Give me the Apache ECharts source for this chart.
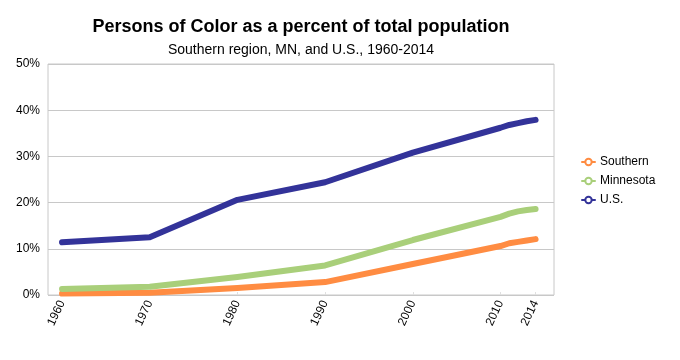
<!DOCTYPE html>
<html>
<head>
<meta charset="utf-8">
<script src="https://cdn.jsdelivr.net/npm/echarts@6/dist/echarts.min.js"></script>
<style>html,body{margin:0;padding:0;background:#fff}#c{width:680px;height:360px}</style>
</head>
<body>
<div id="c"></div>
<script>
var years = [1960, 1970, 1980, 1990, 2000, 2010, 2011, 2012, 2013, 2014];
var southern = [0.3, 0.5, 1.5, 2.8, 6.7, 10.6, 11.2, 11.5, 11.8, 12.1];
var minnesota = [1.3, 1.8, 3.9, 6.4, 11.9, 16.9, 17.6, 18.1, 18.4, 18.6];
var us = [11.4, 12.5, 20.6, 24.4, 30.8, 36.2, 36.8, 37.2, 37.6, 37.9];
var xTickLabels = [1960, 1970, 1980, 1990, 2000, 2010, 2014];
var yTicks = [0, 10, 20, 30, 40, 50];

function pairs(vals) { return years.map(function (y, i) { return [y, vals[i]]; }); }
var font = 'Liberation Sans, Arial, sans-serif';
function line(name, vals, color) {
  return {
    name: name, type: 'line', data: pairs(vals), symbol: 'emptyCircle', symbolSize: 7,
    showSymbol: false, lineStyle: { width: 6, color: color, cap: 'round', join: 'round' },
    itemStyle: { color: color, borderColor: color }, emphasis: { disabled: true }
  };
}
var chart = echarts.init(document.getElementById('c'), null, { renderer: 'canvas' });
chart.setOption({
  animation: false,
  title: [
    { text: 'Persons of Color as a percent of total population', left: 296, textAlign: 'center', top: 13,
      textStyle: { fontFamily: font, fontSize: 18, fontWeight: 'bold', color: '#000' } },
    { text: 'Southern region, MN, and U.S., 1960-2014', left: 296, textAlign: 'center', top: 38,
      textStyle: { fontFamily: font, fontSize: 14, fontWeight: 'normal', color: '#000' } }
  ],
  legend: {
    orient: 'vertical', left: 576, top: 151, itemGap: 7, itemWidth: 13, itemHeight: 8,
    textStyle: { fontFamily: font, fontSize: 12, color: '#000' },
    data: ['Southern', 'Minnesota', 'U.S.']
  },
  grid: { left: 48, right: 126, top: 64, bottom: 65, show: true, borderColor: '#c8c8c8', borderWidth: 1 },
  xAxis: {
    type: 'value', min: 1958.4, max: 2016.1,
    axisLine: { show: false },
    splitLine: { show: false },
    axisTick: { show: true, inside: true, length: 3, lineStyle: { color: '#e0e0e0' }, customValues: xTickLabels },
    axisLabel: { customValues: xTickLabels, rotate: 65, fontFamily: font, fontSize: 12, color: '#000', margin: 6,
      formatter: function (v) { return String(v); } }
  },
  yAxis: {
    type: 'value', min: 0, max: 50, interval: 10,
    axisLine: { show: false }, axisTick: { show: false },
    splitLine: { lineStyle: { color: '#c8c8c8', width: 1 } },
    axisLabel: { fontFamily: font, fontSize: 12, color: '#000', margin: 8,
      formatter: function (v) { return yTicks.indexOf(v) >= 0 ? v + '%' : ''; } }
  },
  series: [
    line('Southern', southern, '#ff8c42'),
    line('Minnesota', minnesota, '#a9cf7a'),
    line('U.S.', us, '#333399')
  ]
});
</script>
</body>
</html>
